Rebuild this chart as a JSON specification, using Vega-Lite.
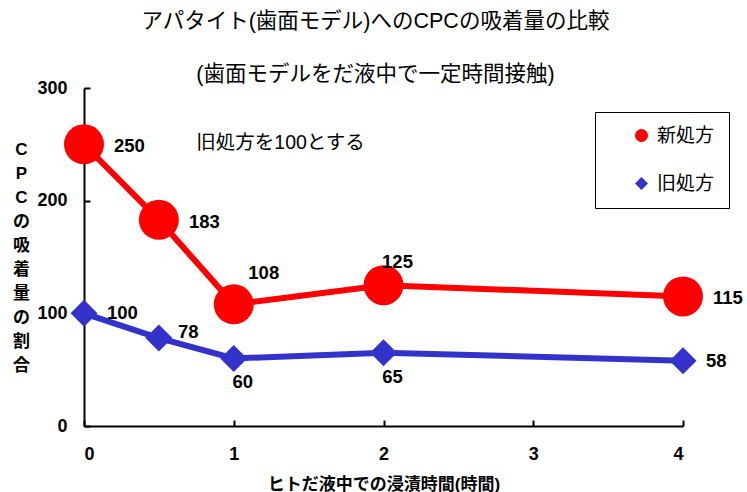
{
  "$schema": "https://vega.github.io/schema/vega-lite/v6.json",
  "autosize": {"type": "none"},
  "width": 599,
  "height": 338,
  "padding": {"left": 84, "top": 88, "right": 64, "bottom": 66},
  "background": "white",
  "title": {
    "text": "アパタイト(歯面モデル)へのCPCの吸着量の比較",
    "subtitle": "(歯面モデルをだ液中で一定時間接触)",
    "font": "Liberation Sans, Noto Sans CJK JP",
    "subtitleFont": "Liberation Sans, Noto Sans CJK JP",
    "fontSize": 21.5,
    "subtitleFontSize": 21.5,
    "fontWeight": "normal",
    "color": "black",
    "subtitleColor": "black",
    "subtitlePadding": 31,
    "anchor": "middle",
    "dx": -8,
    "offset": -6
  },
  "data": {
    "values": [
      {"series": "新処方", "x": 0, "y": 250},
      {"series": "新処方", "x": 0.5, "y": 183},
      {"series": "新処方", "x": 1, "y": 108},
      {"series": "新処方", "x": 2, "y": 125},
      {"series": "新処方", "x": 4, "y": 115},
      {"series": "旧処方", "x": 0, "y": 100},
      {"series": "旧処方", "x": 0.5, "y": 78},
      {"series": "旧処方", "x": 1, "y": 60},
      {"series": "旧処方", "x": 2, "y": 65},
      {"series": "旧処方", "x": 4, "y": 58}
    ]
  },
  "encoding": {
    "x": {
      "field": "x", "type": "quantitative",
      "scale": {"domain": [0, 4], "nice": false, "zero": false},
      "axis": {
        "title": "ヒトだ液中での浸漬時間(時間)",
        "values": [0, 1, 2, 3, 4],
        "grid": false,
        "domainColor": "black", "domainWidth": 2,
        "tickColor": "black", "tickWidth": 2, "tickSize": -6,
        "labelFont": "Liberation Sans", "labelFontSize": 18, "labelFontWeight": "bold", "labelColor": "black",
        "labelPadding": 25,
        "titleFont": "Liberation Sans, Noto Sans CJK JP", "titleFontSize": 17, "titleFontWeight": "bold", "titleColor": "black",
        "titlePadding": 13
      }
    },
    "y": {
      "field": "y", "type": "quantitative",
      "scale": {"domain": [0, 300], "nice": false},
      "axis": {
        "title": ["C", "P", "C", "の", "吸", "着", "量", "の", "割", "合"],
        "values": [0, 100, 200, 300],
        "grid": false,
        "domainColor": "black", "domainWidth": 2,
        "tickColor": "black", "tickWidth": 2, "tickSize": -6,
        "labelFont": "Liberation Sans", "labelFontSize": 18, "labelFontWeight": "bold", "labelColor": "black",
        "labelPadding": 23,
        "titleFont": "Liberation Sans, Noto Sans CJK JP", "titleFontSize": 17, "titleFontWeight": "bold", "titleColor": "black",
        "titleAngle": 0, "titleAlign": "center", "titleBaseline": "middle",
        "titleLineHeight": 24,
        "titleX": -63, "titleY": 61
      }
    }
  },
  "layer": [
    {
      "transform": [{"filter": "datum.series == '新処方'"}],
      "mark": {"type": "line", "strokeWidth": 6, "color": "#FF0000"},
      "encoding": {}
    },
    {
      "transform": [{"filter": "datum.series == '旧処方'"}],
      "mark": {"type": "line", "strokeWidth": 6, "color": "#3333CC"},
      "encoding": {}
    },
    {
      "transform": [{"filter": "datum.series == '新処方'"}],
      "mark": {"type": "point", "filled": true, "opacity": 1, "size": 1600},
      "encoding": {
        "color": {
          "field": "series", "type": "nominal",
          "scale": {"domain": ["新処方", "旧処方"], "range": ["#FF0000", "#3333CC"]},
          "legend": {
            "orient": "none", "legendX": 511, "legendY": 24,
            "title": null,
            "strokeColor": "black", "fillColor": "white",
            "padding": 14, "symbolOffset": 23,
            "labelFont": "Liberation Sans, Noto Sans CJK JP", "labelFontSize": 19, "labelColor": "black",
            "labelOffset": 6, "symbolSize": 170, "rowPadding": 28
          }
        },
        "shape": {
          "field": "series", "type": "nominal",
          "scale": {"domain": ["新処方", "旧処方"], "range": ["circle", "diamond"]}
        }
      }
    },
    {
      "transform": [{"filter": "datum.series == '旧処方'"}],
      "mark": {"type": "point", "filled": true, "opacity": 1, "size": 729},
      "encoding": {
        "color": {"field": "series", "type": "nominal"},
        "shape": {"field": "series", "type": "nominal"}
      }
    },
    {
      "transform": [{"filter": "datum.series == '新処方' && (datum.x == 0 || datum.x == 0.5 || datum.x == 4)"}],
      "mark": {"type": "text", "align": "left", "baseline": "middle", "dx": 30, "dy": 2, "font": "Liberation Sans", "fontSize": 18.5, "fontWeight": "bold", "color": "black"},
      "encoding": {"text": {"field": "y", "type": "quantitative"}}
    },
    {
      "transform": [{"filter": "datum.series == '新処方' && datum.x == 1"}],
      "mark": {"type": "text", "align": "center", "baseline": "middle", "dx": 30, "dy": -31, "font": "Liberation Sans", "fontSize": 18.5, "fontWeight": "bold", "color": "black"},
      "encoding": {"text": {"field": "y", "type": "quantitative"}}
    },
    {
      "transform": [{"filter": "datum.series == '新処方' && datum.x == 2"}],
      "mark": {"type": "text", "align": "center", "baseline": "middle", "dx": 14, "dy": -23, "font": "Liberation Sans", "fontSize": 18.5, "fontWeight": "bold", "color": "black"},
      "encoding": {"text": {"field": "y", "type": "quantitative"}}
    },
    {
      "transform": [{"filter": "datum.series == '旧処方' && (datum.x == 0 || datum.x == 4)"}],
      "mark": {"type": "text", "align": "left", "baseline": "middle", "dx": 23, "dy": 0, "font": "Liberation Sans", "fontSize": 18.5, "fontWeight": "bold", "color": "black"},
      "encoding": {"text": {"field": "y", "type": "quantitative"}}
    },
    {
      "transform": [{"filter": "datum.series == '旧処方' && datum.x == 0.5"}],
      "mark": {"type": "text", "align": "left", "baseline": "middle", "dx": 19, "dy": -6, "font": "Liberation Sans", "fontSize": 18.5, "fontWeight": "bold", "color": "black"},
      "encoding": {"text": {"field": "y", "type": "quantitative"}}
    },
    {
      "transform": [{"filter": "datum.series == '旧処方' && (datum.x == 1 || datum.x == 2)"}],
      "mark": {"type": "text", "align": "center", "baseline": "middle", "dx": 9, "dy": 24, "font": "Liberation Sans", "fontSize": 18.5, "fontWeight": "bold", "color": "black"},
      "encoding": {"text": {"field": "y", "type": "quantitative"}}
    },
    {
      "data": {"values": [{"x": 0.75, "y": 251, "note": "旧処方を100とする"}]},
      "mark": {"type": "text", "align": "left", "baseline": "middle", "font": "Liberation Sans, Noto Sans CJK JP", "fontSize": 19.5, "color": "black"},
      "encoding": {
        "x": {"field": "x", "type": "quantitative"},
        "y": {"field": "y", "type": "quantitative"},
        "text": {"field": "note"}
      }
    }
  ],
  "config": {"view": {"stroke": null}}
}
